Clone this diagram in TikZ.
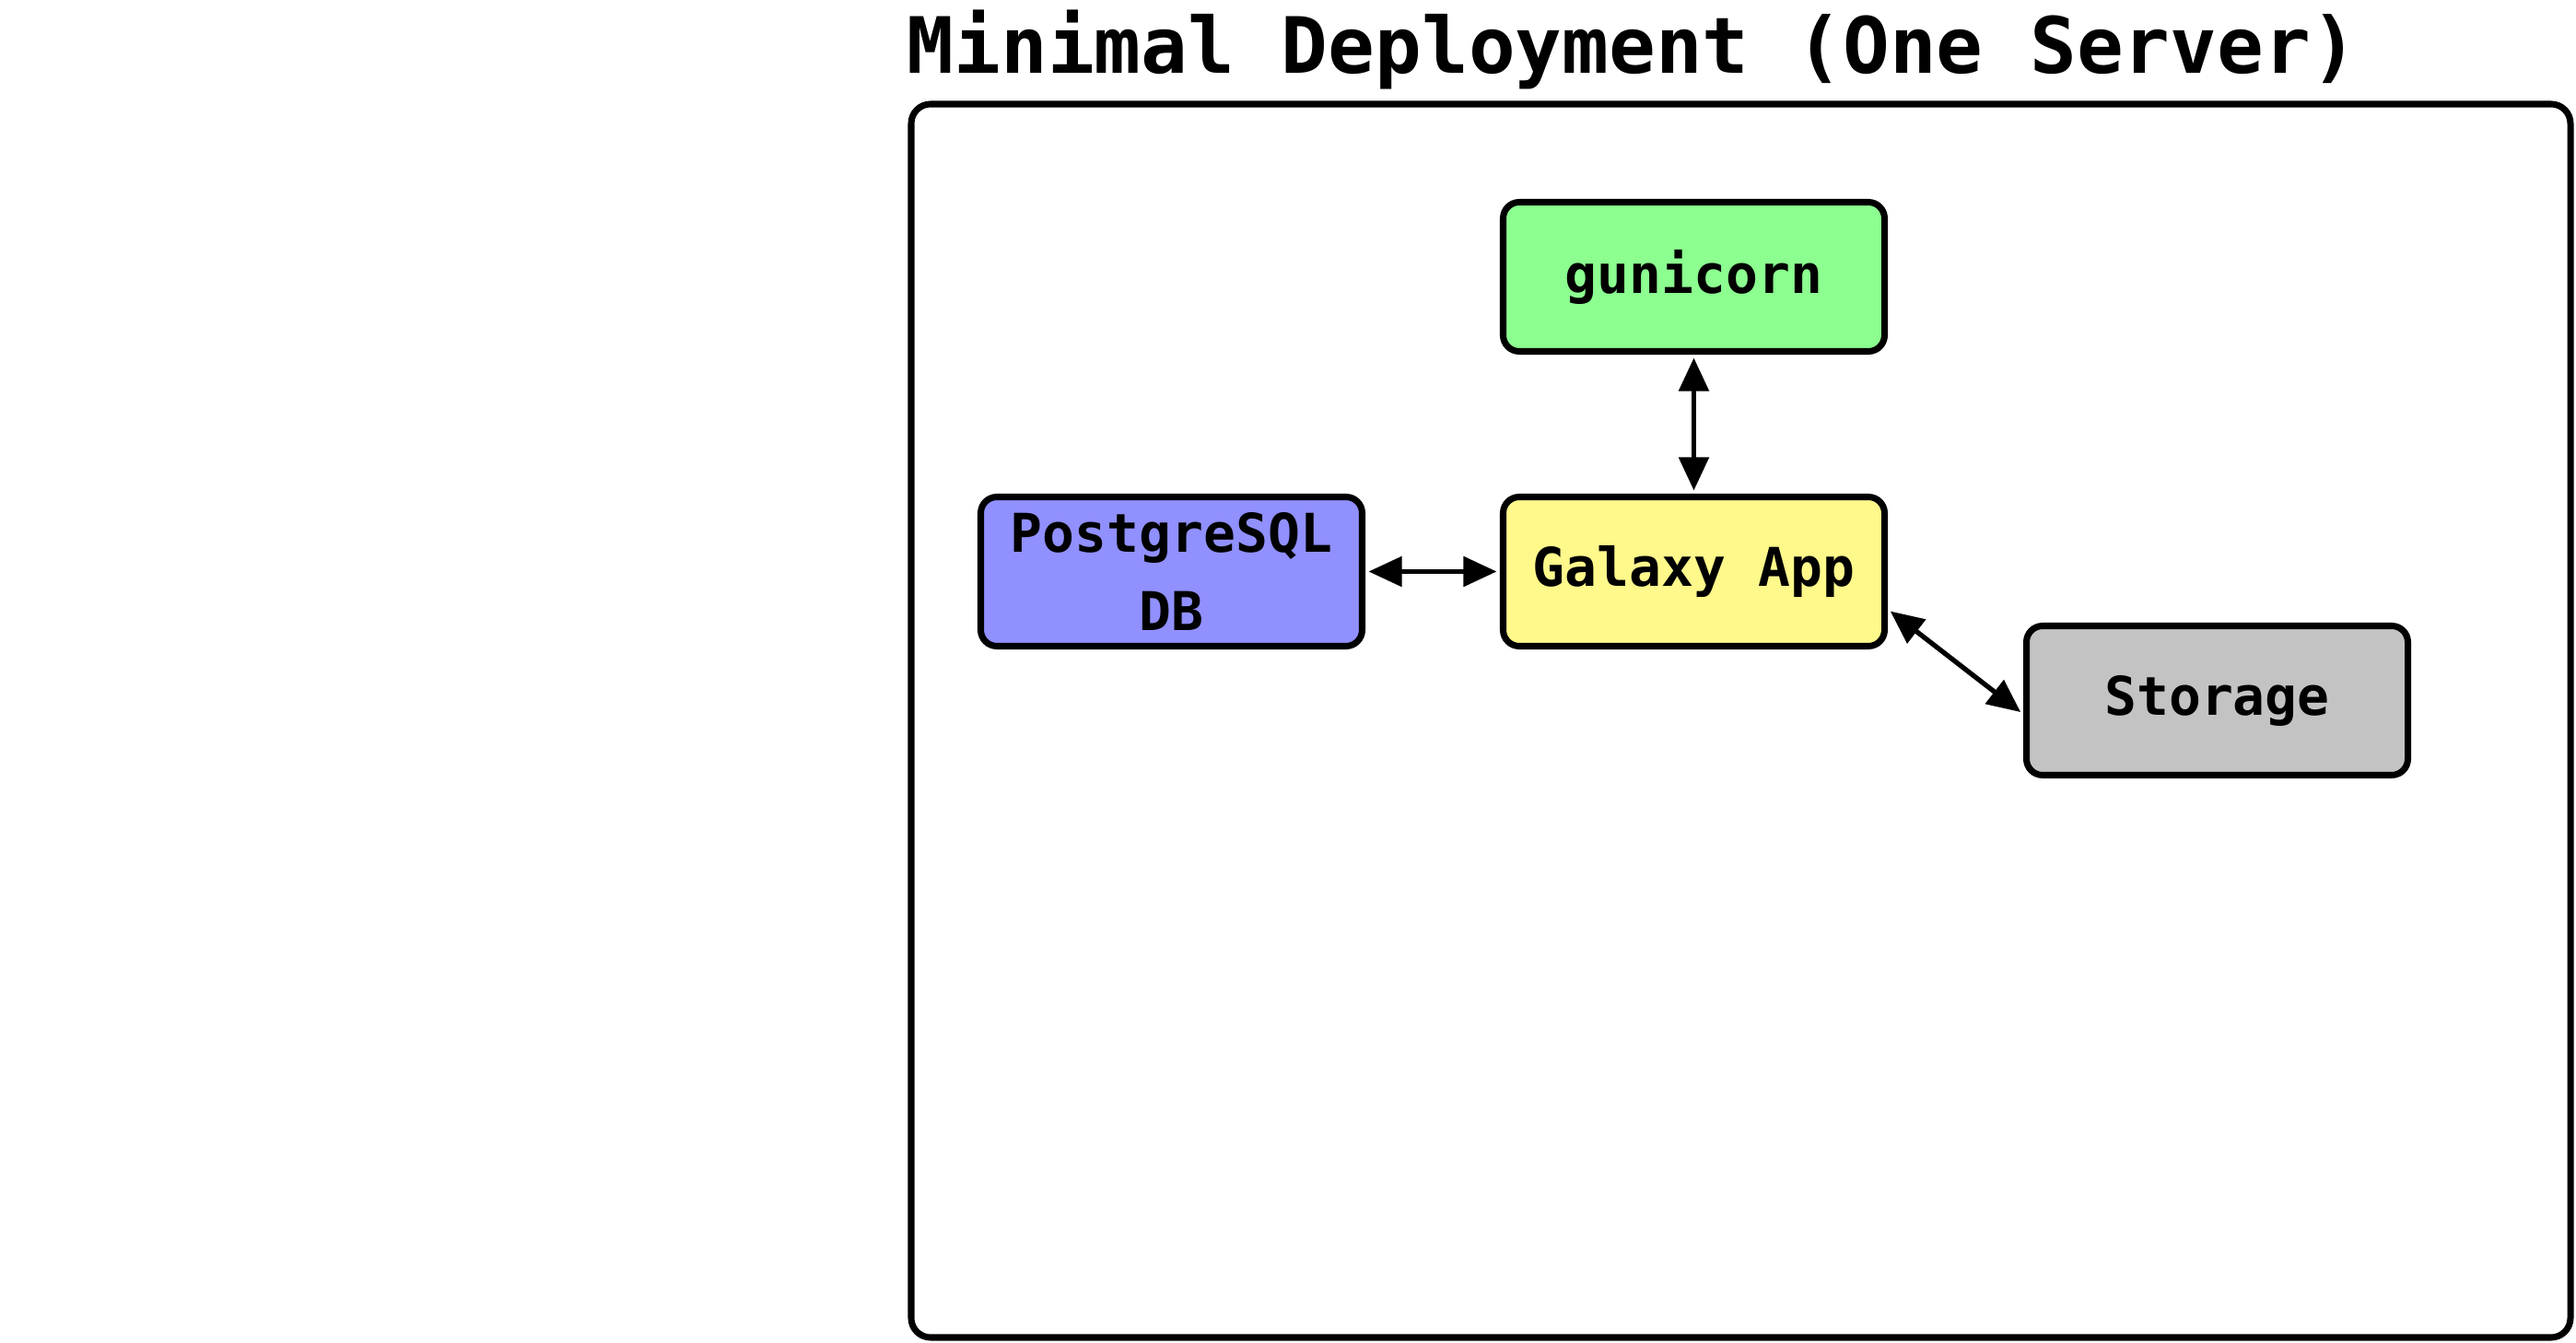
\documentclass[tikz,border=0pt]{standalone}
\usepackage{fontspec}
\setmonofont{DejaVu Sans Mono}
\usetikzlibrary{arrows.meta}
\definecolor{gunigreen}{HTML}{8CFF90}
\definecolor{appyellow}{HTML}{FFF98C}
\definecolor{dbblue}{HTML}{9190FF}
\definecolor{storegray}{HTML}{C3C3C3}
\tikzset{
  part/.style={draw,line width=2pt,rounded corners=5pt,minimum width=4.14cm,
    minimum height=1.62cm,align=center,font=\ttfamily\bfseries\fontsize{16.5}{24}\selectfont},
  link/.style={line width=1.5pt,{Triangle[length=3.6mm,width=3.2mm]}-{Triangle[length=3.6mm,width=3.2mm]},
    shorten <=1pt,shorten >=1pt}
}
\begin{document}
\begin{tikzpicture}
\useasboundingbox (0,0) rectangle (27.96,14.57);
% Server frame and its title
\draw[line width=2pt,rounded corners=6pt] (9.89,0.05) rectangle (27.90,13.44);
\node[anchor=base west,inner sep=0pt,font=\ttfamily\bfseries\fontsize{24}{28}\selectfont] (title) at (9.84,13.77) {Minimal Deployment (One Server)};
% Parts of the deployment
\node[part,fill=appyellow] (galaxy) at (18.385,8.365) {Galaxy App};
\node[part,fill=gunigreen] (gunicorn) at (18.385,11.565) {gunicorn};
\node[part,fill=dbblue] (postgres) at (12.715,8.365) {PostgreSQL\\DB};
\node[part,fill=storegray] (storage) at (24.065,6.965) {Storage};
% Two way links
\draw[link] (gunicorn) -- (galaxy);
\draw[link] (postgres) -- (galaxy);
\draw[link] (galaxy.-11) -- (storage.184);
\end{tikzpicture}
\end{document}
